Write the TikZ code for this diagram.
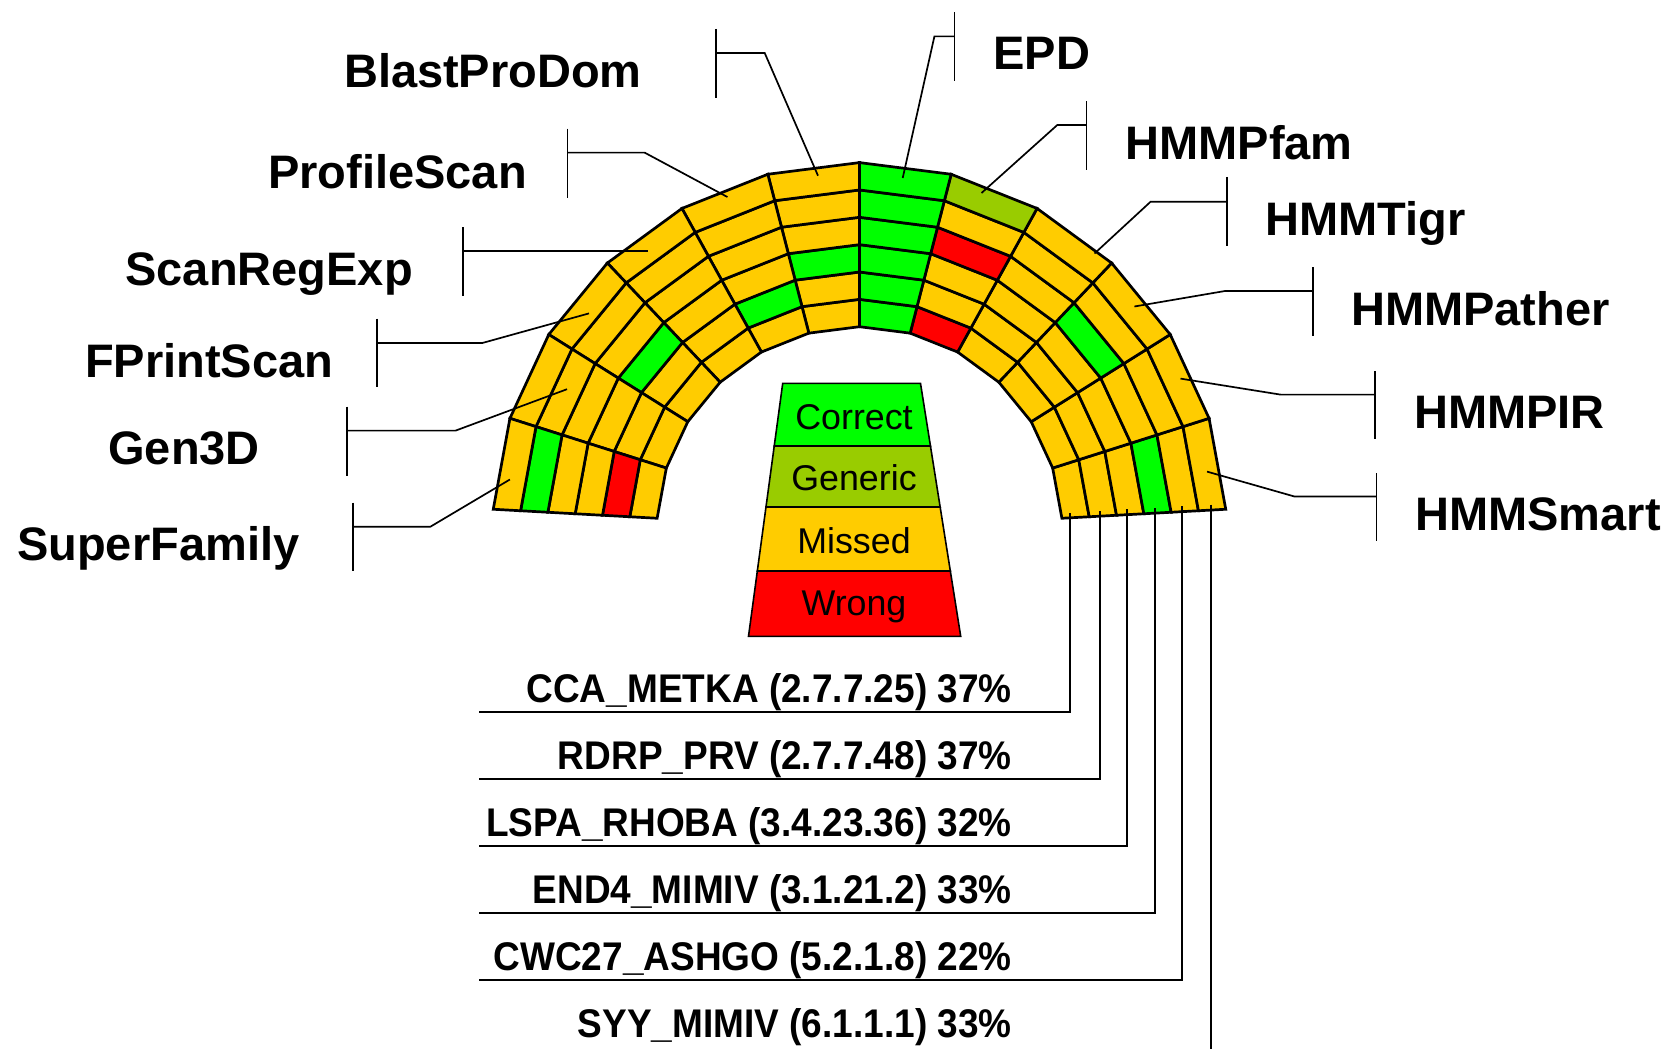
\documentclass[tikz,border=0pt]{standalone}
\usepackage{fontspec}
\setmainfont{Liberation Sans}
\newfontfamily\narrowfont[FakeStretch=0.925]{Liberation Sans}
\usetikzlibrary{calc}

\definecolor{correct}{RGB}{0,255,0}
\definecolor{generic}{RGB}{153,204,0}
\definecolor{missed}{RGB}{255,204,0}
\definecolor{wrong}{RGB}{255,0,0}

\tikzset{
  cell/.style={draw=black, line width=2.7pt, line join=miter},
  method/.style={font=\bfseries\fontsize{47}{47}\selectfont, inner sep=0pt},
  leader/.style={draw=black, line width=1.7pt},
  connector/.style={draw=black, line width=2.1pt},
  protein/.style={font=\narrowfont\bfseries\fontsize{40}{40}\selectfont, anchor=base east, inner sep=0pt},
  legendrow/.style={draw=black, line width=1.6pt},
  legendtext/.style={font=\fontsize{35.8}{35.8}\selectfont, anchor=base, inner sep=0pt},
}

\begin{document}
\begin{tikzpicture}[x=1pt,y=-1pt]
\useasboundingbox (0,0) rectangle (1670,1049);

% centre and radii of the ring chart
\def\cx{859.5}
\def\cy{529.4}
\def\rin{202.7}
\def\rw{27.35}

% sectors (start angle / end angle / ring colours from inner to outer)
\foreach \angA/\angB/\cols in {
  3.15/17.625/{missed,missed,missed,correct,missed,missed},% HMMSmart
  17.625/32.1/{missed,missed,missed,missed,missed,missed},% HMMPIR
  32.1/46.575/{missed,missed,missed,correct,missed,missed},% HMMPather
  46.575/61.05/{missed,missed,missed,missed,missed,missed},% HMMTigr
  61.05/75.525/{wrong,missed,missed,wrong,missed,generic},% HMMPfam
  75.525/90/{correct,correct,correct,correct,correct,correct},% EPD
  90/104.475/{missed,missed,correct,missed,missed,missed},% BlastProDom
  104.475/118.95/{missed,correct,missed,missed,missed,missed},% ProfileScan
  118.95/133.425/{missed,missed,missed,missed,missed,missed},% ScanRegExp
  133.425/147.9/{missed,missed,correct,missed,missed,missed},% FPrintScan
  147.9/162.375/{missed,missed,missed,missed,missed,missed},% Gen3D
  162.375/176.85/{missed,wrong,missed,missed,correct,missed}% SuperFamily
}{
  \foreach \c [count=\ring] in \cols {
    \pgfmathsetmacro\ra{\rin+(\ring-1)*\rw}
    \pgfmathsetmacro\rb{\rin+\ring*\rw}
    \draw[cell, fill=\c]
      ({\cx+\ra*cos(\angA)},{\cy-\ra*sin(\angA)}) --
      ({\cx+\ra*cos(\angB)},{\cy-\ra*sin(\angB)}) --
      ({\cx+\rb*cos(\angB)},{\cy-\rb*sin(\angB)}) --
      ({\cx+\rb*cos(\angA)},{\cy-\rb*sin(\angA)}) -- cycle;
  }
}

% method labels on the left
\foreach \name/\txt/\lx/\ly/\tickx/\ttop/\tbot/\hy/\kx/\ex/\ey in {
  blast/BlastProDom/642/87.5/715.7/28.8/98/53/764.7/818/175.7,
  profile/ProfileScan/527/188/567.5/128.6/197.7/152.6/644.6/727.4/197,
  scanreg/ScanRegExp/413/285.5/463/227.3/295.7/251.3/648/648/251.3,
  fprint/FPrintScan/333.5/377/377/318.6/387.3/343/482.3/589/313.4,
  gen3d/Gen3D/260/464.5/347/406.6/475.7/430.6/455.6/567/389.2,
  superfam/SuperFamily/299.5/560/353/502.7/571/526.7/430.4/509.9/479.5
}{
  \node[method, anchor=base east] (\name) at (\lx,\ly) {\txt};
  \coordinate (\name-top) at (\tickx,\ttop);
  \coordinate (\name-bot) at (\tickx,\tbot);
  \coordinate (\name-hook) at (\tickx,\hy);
  \coordinate (\name-knee) at (\kx,\hy);
  \coordinate (\name-cell) at (\ex,\ey);
  \draw[leader] (\name-top) -- (\name-bot);
  \draw[leader] (\name-hook) -- (\name-knee) -- (\name-cell);
}

% method labels on the right
\foreach \name/\txt/\lx/\ly/\tickx/\ttop/\tbot/\hy/\kx/\ex/\ey in {
  epd/EPD/993.4/70/954.6/12.5/81.4/36.4/934.4/902.7/178,
  hmmpfam/HMMPfam/1125.4/159.3/1086.6/101/169.6/125/1057.3/981.5/193,
  hmmtigr/HMMTigr/1265.4/235.5/1227/176.8/245.7/201.8/1150.5/1094.5/253.5,
  hmmpather/HMMPather/1351/325.5/1313/267/335.7/291/1225/1134.4/306.5,
  hmmpir/HMMPIR/1414/428/1374.7/371.4/439.2/394.6/1280.5/1180.5/378.6,
  hmmsmart/HMMSmart/1415/530.5/1376.5/473.2/541/496.4/1294.1/1207/471.6
}{
  \node[method, anchor=base west] (\name) at (\lx,\ly) {\txt};
  \coordinate (\name-top) at (\tickx,\ttop);
  \coordinate (\name-bot) at (\tickx,\tbot);
  \coordinate (\name-hook) at (\tickx,\hy);
  \coordinate (\name-knee) at (\kx,\hy);
  \coordinate (\name-cell) at (\ex,\ey);
  \draw[leader] (\name-top) -- (\name-bot);
  \draw[leader] (\name-hook) -- (\name-knee) -- (\name-cell);
}

% protein labels under the chart, tied to the rings of the last sector
\foreach \name/\txt/\ly/\vx in {
  cca/CCA\_METKA (2.7.7.25) 37\%/712/1070.3,
  rdrp/RDRP\_PRV (2.7.7.48) 37\%/779/1100.4,
  lspa/LSPA\_RHOBA (3.4.23.36) 32\%/846/1127.2,
  endf/END4\_MIMIV (3.1.21.2) 33\%/913/1155,
  cwc/CWC27\_ASHGO (5.2.1.8) 22\%/980/1181.8
}{
  \node[protein] (\name) at (1012,{\ly-9.5}) {\txt};
  \coordinate (\name-start) at (479,\ly);
  \coordinate (\name-ring) at (\vx,{513-(\vx-1061.7)*0.0555});
  \draw[connector] (\name-start) -| (\name-ring);
}
\node[protein] (syy) at (1012,1037.5) {SYY\_MIMIV (6.1.1.1) 33\%};
\coordinate (syy-ring) at (1211,504.5);
\coordinate (syy-foot) at (1211,1049);
\draw[connector] (syy-ring) -- (syy-foot);

% legend
\coordinate (lt) at (782.7,383.4);
\coordinate (lb) at (748.5,636.3);
\coordinate (rt) at (920.5,383.4);
\coordinate (rb) at (960.7,636.3);
\foreach \t/\u/\c/\txt/\by in {
  0/0.2475/correct/Correct/429.3,
  0.2475/0.4887/generic/Generic/490,
  0.4887/0.7418/missed/Missed/553.3,
  0.7418/1/wrong/Wrong/615
}{
  \draw[legendrow, fill=\c] ($(lt)!\t!(lb)$) -- ($(rt)!\t!(rb)$) -- ($(rt)!\u!(rb)$) -- ($(lt)!\u!(lb)$) -- cycle;
  \node[legendtext] (leg-\c) at (854,\by) {\txt};
}
\end{tikzpicture}
\end{document}
